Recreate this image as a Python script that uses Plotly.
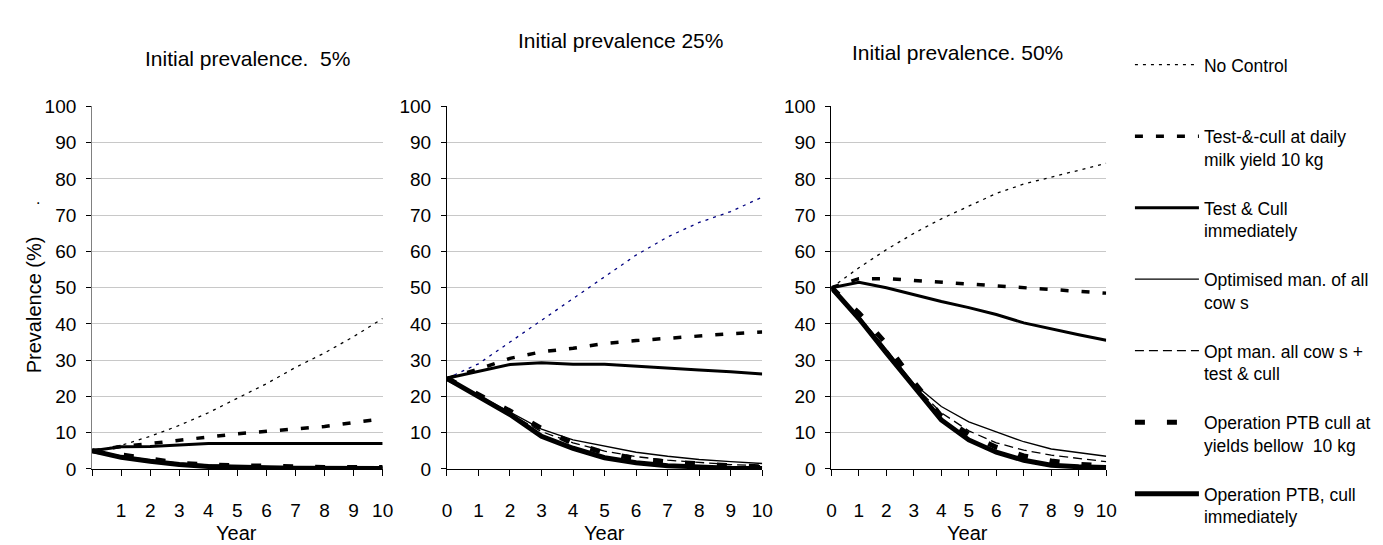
import plotly.graph_objects as go

# ---------------- data ----------------
years = list(range(11))
panel_titles = ["Initial prevalence.  5%", "Initial prevalence 25%", "Initial prevalence. 50%"]
x_tick_labels_p1 = ["", "1", "2", "3", "4", "5", "6", "7", "8", "9", "10"]
x_tick_labels = [str(v) for v in years]
y_tick_vals = list(range(0, 101, 10))

series_names = [
    "No Control<br>\u00a0",
    "Test-&-cull at daily<br>milk yield 10 kg",
    "Test & Cull<br>immediately",
    "Optimised man. of all<br>cow s",
    "Opt man. all cow s +<br>test & cull",
    "Operation PTB cull at<br>yields bellow  10 kg",
    "Operation PTB, cull<br>immediately",
]

# Initial prevalence 5%
no_control_5 = [5, 6.5, 9, 12, 15.5, 19.5, 23.5, 28, 32, 36.5, 41.5]
tc_daily_5 = [5, 6.2, 7, 8, 8.8, 9.7, 10.4, 10.9, 11.7, 12.8, 13.8]
tc_imm_5 = [5, 6.1, 6.2, 6.6, 7, 7, 7, 7, 7, 7, 7]
opt_5 = [5, 3.6, 2.5, 1.6, 1.1, 0.8, 0.6, 0.4, 0.3, 0.3, 0.3]
opt_tc_5 = [5, 3.4, 2.3, 1.4, 1.0, 0.7, 0.5, 0.3, 0.3, 0.2, 0.2]
ptb_yield_5 = [5, 3.8, 2.6, 1.6, 1.1, 0.9, 0.7, 0.4, 0.4, 0.4, 0.4]
ptb_imm_5 = [5, 3.2, 2.1, 1.2, 0.7, 0.4, 0.3, 0.2, 0.2, 0.1, 0.1]

# Initial prevalence 25%
no_control_25 = [25, 29, 35, 41, 47, 53, 59, 64, 68, 71, 75]
tc_daily_25 = [25, 27.5, 30.5, 32.3, 33.3, 34.6, 35.4, 36.1, 36.8, 37.3, 37.8]
tc_imm_25 = [25, 26.8, 28.8, 29.3, 28.9, 28.9, 28.3, 27.8, 27.3, 26.8, 26.2]
opt_25 = [25, 20.3, 15.5, 11, 8, 6.2, 4.6, 3.5, 2.6, 2.0, 1.5]
opt_tc_25 = [25, 20, 15.2, 10.3, 7.2, 4.9, 3.4, 2.4, 1.7, 1.2, 0.9]
ptb_yield_25 = [25, 20.6, 16, 11.2, 7, 4.5, 2.8, 1.9, 1.3, 0.9, 0.6]
ptb_imm_25 = [25, 20, 15, 9, 5.7, 3.1, 1.7, 0.9, 0.4, 0.2, 0.1]

# Initial prevalence 50%
no_control_50 = [50, 55.5, 60.5, 65, 69, 72.5, 76, 78.6, 80.6, 82.4, 84.3]
tc_daily_50 = [50, 52.5, 52.5, 52, 51.5, 51, 50.5, 50, 49.7, 49.2, 48.5]
tc_imm_50 = [50, 51.5, 50, 48, 46.2, 44.5, 42.6, 40.3, 38.6, 37, 35.5]
opt_50 = [50, 42, 33, 23.5, 17.2, 13, 10.2, 7.5, 5.5, 4.5, 3.5]
opt_tc_50 = [50, 42, 33, 23, 15.5, 10.5, 7.2, 5.2, 3.8, 2.8, 2.0]
ptb_yield_50 = [50, 43, 34.5, 24, 14.5, 9.5, 6, 3.6, 2.2, 1.3, 0.8]
ptb_imm_50 = [50, 41.5, 32, 22.5, 13.5, 8, 4.6, 2.4, 1.0, 0.6, 0.4]

panel_series = [
    [no_control_5, tc_daily_5, tc_imm_5, opt_5, opt_tc_5, ptb_yield_5, ptb_imm_5],
    [no_control_25, tc_daily_25, tc_imm_25, opt_25, opt_tc_25, ptb_yield_25, ptb_imm_25],
    [no_control_50, tc_daily_50, tc_imm_50, opt_50, opt_tc_50, ptb_yield_50, ptb_imm_50],
]

# ---------------- styles ----------------
W, H = 1383, 545
FONT = "Liberation Sans, Arial, sans-serif"
line_styles = [
    dict(width=1.3, dash="3px,5px"),
    dict(width=3.5, dash="8px,13px"),
    dict(width=3, dash="solid"),
    dict(width=1.3, dash="solid"),
    dict(width=1.3, dash="9px,5px"),
    dict(width=5, dash="10px,22px"),
    dict(width=5, dash="solid"),
]
# pixel layout of the three plot areas
px_x = [(80, 374), (439, 758), (828, 1106)]
px_y = (469, 92)  # y=0, y=100
y_dom = [1 - px_y[0] / H, 1 - px_y[1] / H]

fig = go.Figure()
for p in range(3):
    xa = "x" if p == 0 else f"x{p+1}"
    ya = "y" if p == 0 else f"y{p+1}"
    for s, vals in enumerate(panel_series[p]):
        color = "black"
        if p == 1 and s == 0:
            color = "#000080"
        fig.add_trace(go.Scatter(
            x=years, y=vals, mode="lines",
            name=series_names[s], legendgroup=f"g{s}",
            showlegend=(p == 0),
            line=dict(color=color, **line_styles[s]),
            xaxis=xa, yaxis=ya, hoverinfo="skip",
        ))

layout_axes = {}
for p in range(3):
    xk = "xaxis" if p == 0 else f"xaxis{p+1}"
    yk = "yaxis" if p == 0 else f"yaxis{p+1}"
    layout_axes[xk] = dict(
        domain=[px_x[p][0] / W, px_x[p][1] / W],
        range=[0, 10], tickvals=years,
        ticktext=x_tick_labels_p1 if p == 0 else x_tick_labels,
        showgrid=False, zeroline=False,
        showline=True, linecolor="black", linewidth=1,
        ticks="outside", ticklen=6, tickcolor="black", tickwidth=1,
        ticklabelstandoff=18,
        tickfont=dict(family=FONT, size=19, color="black"),
        anchor="y" if p == 0 else f"y{p+1}",
        fixedrange=True,
    )
    layout_axes[yk] = dict(
        domain=y_dom, range=[0, 100], tickvals=y_tick_vals,
        showgrid=True, gridcolor="#c8c8c8", gridwidth=1,
        zeroline=False,
        showline=True, linecolor="#808080" if p == 0 else "black", linewidth=1,
        ticks="outside", ticklen=5, tickcolor="black", tickwidth=1,
        ticklabelstandoff=6,
        tickfont=dict(family=FONT, size=19, color="black"),
        anchor="x" if p == 0 else f"x{p+1}",
        fixedrange=True,
    )

def ann(text, xpx, ypx, size, angle=0):
    return dict(text=text, x=xpx / W, y=1 - ypx / H, xref="paper", yref="paper",
                showarrow=False, xanchor="center", yanchor="middle", textangle=angle,
                font=dict(family=FONT, size=size, color="black"))

annotations = [
    ann(panel_titles[0], 237, 42, 21),
    ann(panel_titles[1], 615, 23, 21),
    ann(panel_titles[2], 956, 36, 21),
    ann("Year", 226, 536, 20),
    ann("Year", 598, 536, 20),
    ann("Year", 966, 536, 20),
    ann("Prevalence (%)", 21, 298, 20, angle=-90),
    ann(".", 25, 188, 16),
]

fig.update_layout(
    width=W, height=H,
    margin=dict(l=0, r=0, t=0, b=0),
    paper_bgcolor="white", plot_bgcolor="white",
    font=dict(family=FONT, color="black"),
    annotations=annotations,
    legend=dict(
        x=(1135 - 5) / W, y=1 - 30 / H, xanchor="left", yanchor="top",
        traceorder="grouped", tracegroupgap=23, valign="top",
        itemwidth=64, bgcolor="rgba(0,0,0,0)", borderwidth=0,
        font=dict(family=FONT, size=17.5, color="black"),
        itemclick=False, itemdoubleclick=False,
    ),
    **layout_axes,
)

fig.write_html("out.html")
